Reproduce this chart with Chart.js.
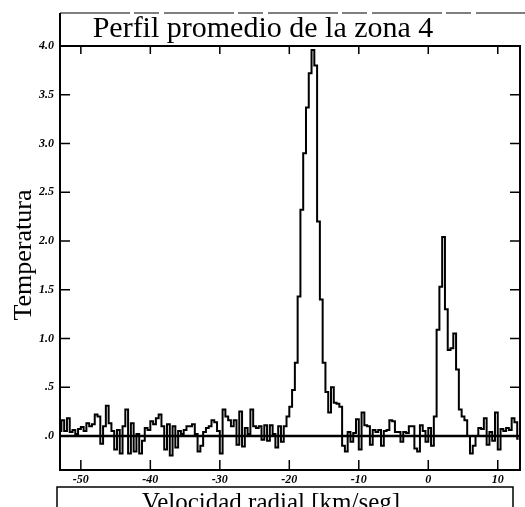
<!DOCTYPE html>
<html>
<head>
<meta charset="utf-8">
<script src="https://cdn.jsdelivr.net/npm/chart.js@4/dist/chart.umd.min.js"></script>
<style>
  html, body { margin: 0; padding: 0; background: #fff; }
  canvas { display: block; }
</style>
</head>
<body>
<canvas id="perfil" width="525" height="507"></canvas>
<script>
// Radial velocity of each channel [km/s]
var velocidad = [
  -53.0, -52.6, -52.2, -51.8, -51.4, -51.0, -50.6, -50.2, -49.8, -49.4,
  -49.0, -48.6, -48.2, -47.8, -47.4, -47.0, -46.6, -46.2, -45.8, -45.4,
  -45.0, -44.6, -44.2, -43.8, -43.4, -43.0, -42.6, -42.2, -41.8, -41.4,
  -41.0, -40.6, -40.2, -39.8, -39.4, -39.0, -38.6, -38.2, -37.8, -37.4,
  -37.0, -36.6, -36.2, -35.8, -35.4, -35.0, -34.6, -34.2, -33.8, -33.4,
  -33.0, -32.6, -32.2, -31.8, -31.4, -31.0, -30.6, -30.2, -29.8, -29.4,
  -29.0, -28.6, -28.2, -27.8, -27.4, -27.0, -26.6, -26.2, -25.8, -25.4,
  -25.0, -24.6, -24.2, -23.8, -23.4, -23.0, -22.6, -22.2, -21.8, -21.4,
  -21.0, -20.6, -20.2, -19.8, -19.4, -19.0, -18.6, -18.2, -17.8, -17.4,
  -17.0, -16.6, -16.2, -15.8, -15.4, -15.0, -14.6, -14.2, -13.8, -13.4,
  -13.0, -12.6, -12.2, -11.8, -11.4, -11.0, -10.6, -10.2, -9.8, -9.4,
  -9.0, -8.6, -8.2, -7.8, -7.4, -7.0, -6.6, -6.2, -5.8, -5.4,
  -5.0, -4.6, -4.2, -3.8, -3.4, -3.0, -2.6, -2.2, -1.8, -1.4,
  -1.0, -0.6, -0.2, 0.2, 0.6, 1.0, 1.4, 1.8, 2.2, 2.6,
  3.0, 3.4, 3.8, 4.2, 4.6, 5.0, 5.4, 5.8, 6.2, 6.6,
  7.0, 7.4, 7.8, 8.2, 8.6, 9.0, 9.4, 9.8, 10.2, 10.6,
  11.0, 11.4, 11.8, 12.2, 12.6, 13.0
];

// Averaged temperature per channel
var temperatura = [
  0.05, 0.16, 0.05, 0.18, 0.04, 0.06, 0.02, 0.07, 0.09, 0.05,
  0.13, 0.10, 0.12, 0.22, 0.20, -0.08, 0.10, 0.31, 0.13, 0.05,
  -0.14, 0.06, -0.18, 0.10, 0.27, -0.18, 0.13, -0.16, 0.02, -0.18,
  -0.05, 0.08, 0.06, 0.15, 0.12, 0.18, 0.22, 0.10, -0.14, 0.12,
  -0.20, 0.10, -0.12, 0.05, 0.02, 0.06, 0.10, 0.10, 0.12, 0.02,
  -0.16, -0.10, 0.04, 0.08, 0.10, 0.16, 0.14, 0.05, -0.18, 0.27,
  0.20, 0.16, 0.10, 0.16, -0.09, 0.25, -0.11, 0.08, 0.02, 0.27,
  0.10, 0.08, 0.10, -0.04, 0.11, -0.05, 0.11, 0.02, -0.12, 0.10,
  -0.06, 0.10, 0.20, 0.30, 0.47, 0.75, 1.43, 2.32, 2.90, 3.37,
  3.72, 3.96, 3.80, 2.20, 1.40, 0.75, 0.45, 0.24, 0.50, 0.34,
  0.33, 0.30, -0.10, -0.16, 0.04, -0.06, 0.03, 0.17, -0.14, 0.24,
  0.11, 0.10, -0.09, 0.06, 0.04, 0.06, -0.10, 0.05, 0.06, 0.16,
  0.15, 0.04, 0.04, -0.06, 0.04, 0.03, 0.10, 0.10, -0.13, -0.16,
  0.11, 0.05, -0.06, 0.08, -0.10, 0.20, 1.09, 1.53, 2.04, 1.30,
  0.88, 0.90, 1.05, 0.68, 0.27, 0.20, 0.16, 0.00, -0.18, -0.10,
  0.00, 0.08, 0.07, 0.18, -0.09, 0.04, -0.05, 0.24, -0.14, 0.07,
  0.05, 0.08, 0.06, 0.18, 0.14, -0.03
];

var xTicks = [-50, -40, -30, -20, -10, 0, 10];
var yTicks = [0, 0.5, 1.0, 1.5, 2.0, 2.5, 3.0, 3.5, 4.0];
var yTickLabels = ['.0', '.5', '1.0', '1.5', '2.0', '2.5', '3.0', '3.5', '4.0'];

var titulo = 'Perfil promedio de la zona 4';
var ejeX = 'Velocidad radial [km/seg]';
var ejeY = 'Temperatura';

var serif = '"Liberation Serif", "Times New Roman", serif';
var tickFont = { family: serif, size: 12, style: 'italic', weight: 'bold' };

var puntos = velocidad.map((v, i) => ({ x: v, y: temperatura[i] }));

// frame, inward ticks, zero line and the boxed labels
var marco = {
    id: 'marco',
    afterDraw(chart) {
        var ctx = chart.ctx;
        var a = chart.chartArea;
        var xs = chart.scales.x, ys = chart.scales.y;
        ctx.save();
        ctx.strokeStyle = '#000';
        ctx.lineCap = 'butt';

        // zero line
        var y0 = ys.getPixelForValue(0);
        ctx.lineWidth = 2.5;
        ctx.beginPath();
        ctx.moveTo(a.left, y0);
        ctx.lineTo(a.right, y0);
        ctx.stroke();

        // plot frame
        ctx.lineWidth = 2;
        ctx.beginPath();
        ctx.moveTo(a.left, 13);
        ctx.lineTo(a.left, a.bottom);
        ctx.lineTo(a.right, a.bottom);
        ctx.lineTo(a.right, a.top);
        ctx.lineTo(a.left, a.top);
        ctx.stroke();

        // title box top (broken line)
        ctx.lineWidth = 1.2;
        ctx.setLineDash([70, 4, 25, 5]);
        ctx.beginPath();
        ctx.moveTo(a.left, 13);
        ctx.lineTo(525, 13);
        ctx.stroke();
        ctx.setLineDash([]);

        // ticks
        ctx.lineWidth = 1.5;
        ctx.beginPath();
        xTicks.forEach(t => {
            var px = xs.getPixelForValue(t);
            ctx.moveTo(px, a.top);
            ctx.lineTo(px, a.top + 8);
            ctx.moveTo(px, a.bottom);
            ctx.lineTo(px, a.bottom - 10);
        });
        yTicks.forEach(t => {
            var py = ys.getPixelForValue(t);
            ctx.moveTo(a.left, py);
            ctx.lineTo(a.left + 10, py);
            ctx.moveTo(a.right, py);
            ctx.lineTo(a.right - 10, py);
        });
        ctx.stroke();

        // title
        ctx.fillStyle = '#000';
        ctx.font = '30px ' + serif;
        ctx.textAlign = 'center';
        ctx.textBaseline = 'alphabetic';
        ctx.fillText(titulo, 263, 37);

        // x label box
        ctx.lineWidth = 1.5;
        ctx.strokeRect(57, 487, 456, 40);
        ctx.font = '25px ' + serif;
        ctx.fillText(ejeX, 271, 510);

        // y label
        ctx.translate(31, 255);
        ctx.rotate(-Math.PI / 2);
        ctx.font = '26px ' + serif;
        ctx.fillText(ejeY, 0, 0);
        ctx.restore();
    }
};

new Chart(document.getElementById('perfil'), {
    type: 'line',
    data: {
        datasets: [{
            data: puntos,
            stepped: 'middle',
            borderColor: '#000',
            borderWidth: 2,
            pointRadius: 0,
            fill: false
        }]
    },
    options: {
        responsive: false,
        animation: false,
        layout: { padding: { top: 46, right: 5, left: 0, bottom: 0 } },
        plugins: { legend: { display: false }, tooltip: { enabled: false } },
        scales: {
            x: {
                type: 'linear',
                min: -53.0,
                max: 13.2,
                afterBuildTicks(s) { s.ticks = xTicks.map(v => ({ value: v })); },
                afterFit(s) { s.height = 37; },
                border: { display: false },
                grid: { display: false, drawTicks: false },
                ticks: {
                    color: '#000',
                    font: tickFont,
                    padding: 3,
                    maxRotation: 0,
                    autoSkip: false
                }
            },
            y: {
                type: 'linear',
                min: -0.35,
                max: 4.0,
                afterBuildTicks(s) { s.ticks = yTicks.map(v => ({ value: v })); },
                afterFit(s) { s.width = 60; },
                border: { display: false },
                grid: { display: false, drawTicks: false },
                ticks: {
                    color: '#000',
                    font: tickFont,
                    padding: 6,
                    autoSkip: false,
                    callback: function(v) {
                        var i = yTicks.indexOf(v);
                        return i >= 0 ? yTickLabels[i] : '';
                    }
                }
            }
        }
    },
    plugins: [marco]
});
</script>
</body>
</html>
